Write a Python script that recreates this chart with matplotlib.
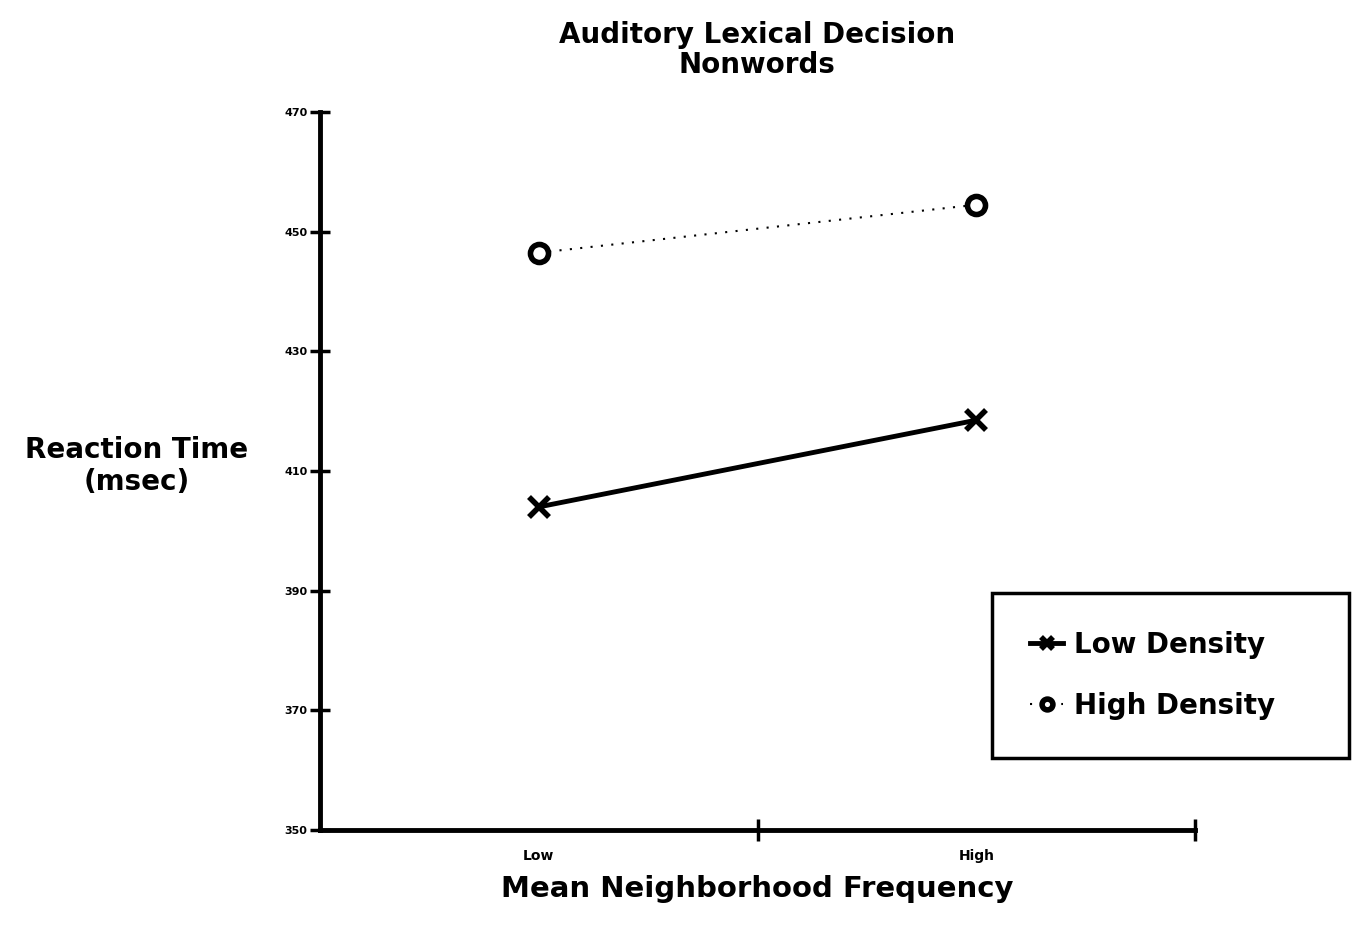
import numpy as np
import matplotlib
matplotlib.use("Agg")
import matplotlib.pyplot as plt

plt.rcParams['font.family'] = ['DejaVu Sans']
plt.rcParams['font.weight'] = 'bold'

# data
x_pos = [1, 3]
x_labels = ['Low', 'High']
low_density = [404, 418.5]
high_density = [446.5, 454.5]
y_ticks = [350, 370, 390, 410, 430, 450, 470]

fig = plt.figure(figsize=(13.52, 9.32), dpi=100)
ax = fig.add_axes([0.2367, 0.1094, 0.6472, 0.7704])

ax.plot(x_pos, low_density, color='black', lw=3.5, marker='x',
        ms=14, mew=4, label='Low Density')
ax.plot(x_pos, high_density, color='black', lw=1.5, ls=(0, (1, 4)),
        marker='o', ms=13, mfc='white', mec='black', mew=4,
        label='High Density')

ax.set_xlim(0, 4)
ax.set_ylim(350, 470)

for side in ['top', 'right']:
    ax.spines[side].set_visible(False)
for side in ['left', 'bottom']:
    ax.spines[side].set_linewidth(3.5)

ax.set_yticks(y_ticks)
ax.set_yticklabels([str(v) for v in y_ticks], fontsize=8, fontweight='bold')
ax.tick_params(axis='y', direction='inout', length=14, width=2.5, pad=2)

ax.set_xticks([2, 4])
ax.set_xticklabels(['', ''])
ax.set_xticks(x_pos, minor=True)
ax.set_xticklabels(x_labels, minor=True, fontsize=10, fontweight='bold')
ax.tick_params(axis='x', which='major', direction='inout', length=16, width=2.5)
ax.tick_params(axis='x', which='minor', length=0, pad=14)

ax.set_xlabel('Mean Neighborhood Frequency', fontsize=21, fontweight='bold',
              labelpad=8)
fig.text(0.101, 0.5, 'Reaction Time\n(msec)', fontsize=20, fontweight='bold',
         ha='center', va='center', linespacing=1.2)
fig.text(0.56, 0.946, 'Auditory Lexical Decision\nNonwords', fontsize=20,
         fontweight='bold', ha='center', va='center', linespacing=1.1)

leg = fig.legend(loc='lower left', bbox_to_anchor=(0.734, 0.187, 0.264, 0.18),
                 mode='expand', fontsize=20, frameon=True, fancybox=False,
                 framealpha=1, edgecolor='black', handlelength=1.2,
                 handletextpad=0.4, borderpad=1.35, labelspacing=1.2,
                 borderaxespad=0, markerscale=0.6)
leg.get_frame().set_linewidth(2.5)
for t in leg.get_texts():
    t.set_fontweight('bold')

fig.savefig('out.png', dpi=100)
